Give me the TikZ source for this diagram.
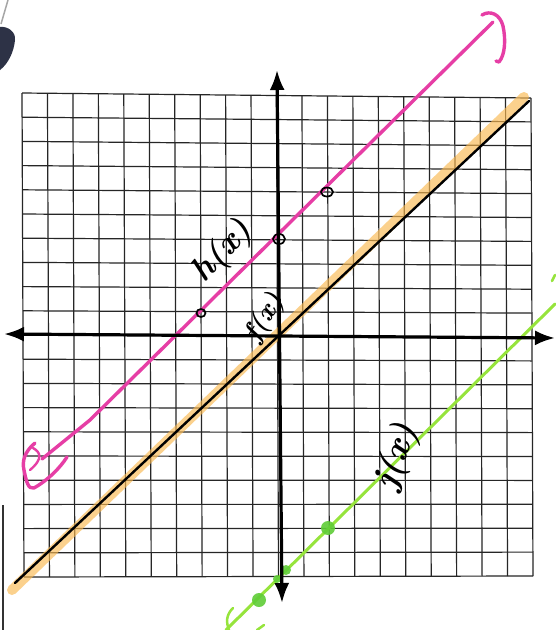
\documentclass[tikz,border=0pt]{standalone}
\usetikzlibrary{arrows.meta}
\definecolor{pinkline}{RGB}{230,62,165}
\definecolor{orangehl}{RGB}{250,185,80}
\definecolor{greenline}{RGB}{150,228,60}
\definecolor{greendot}{RGB}{95,205,55}
\definecolor{pencil}{RGB}{45,50,70}
\begin{document}
\begin{tikzpicture}[x=1pt,y=-1pt,
  gridline/.style={line width=1.2pt, black!85},
  axisline/.style={line width=3.2pt, black, {Latex[length=20pt,width=15pt]}-{Latex[length=20pt,width=15pt]}},
  hand/.style={inner sep=0pt, text=black},
  opendot/.style={line width=1.7pt, black},
  pinkstroke/.style={line width=3.4pt, pinkline, line cap=round, line join=round},
  greenstroke/.style={line width=3pt, greenline, line cap=round},
]
\useasboundingbox (0,0) rectangle (555,630);
\fill[white] (0,0) rectangle (555,630);

% grid
\foreach \i in {0,...,20} {
  \draw[gridline] ({22+25.45*\i},{93+0.25*\i}) -- ({24+25.45*\i},{577-0.05*\i});
  \draw[gridline] ({22+0.1*\i},{93+24.2*\i}) -- ({531+0.1*\i},{98+23.9*\i});
}

% orange highlight along f(x)
\draw[line width=10pt, orangehl, opacity=0.65, line cap=round] (12,590) -- (524,97);

% green line j(x)
\coordinate (j1) at (226,630);
\coordinate (j2) at (555,304);
\draw[greenstroke] (j1) -- (j2);
\foreach \p/\r in {{(328,528)}/7, {(286,570)}/5, {(277,579)}/4, {(259,600)}/7}
  \fill[greendot, opacity=0.9] \p circle (\r);
\draw[greenstroke, line width=2.5pt] (233,608) .. controls (226,615) and (226,622) .. (229,630);
\draw[greenstroke, line width=2.5pt] (257,630) -- (264,625);
\draw[greenstroke, line width=2.5pt] (552,281) -- (555,275);

% pink line h(x)
\coordinate (h1) at (42,459);
\coordinate (hm) at (90,420);
\coordinate (h2) at (493,22);
\draw[pinkstroke] (h1) -- (hm) -- (h2);
\draw[pinkstroke] (482,15) .. controls (490,10) and (500,14) .. (503,26)
  .. controls (506,40) and (505,55) .. (499,62) -- (496,61);
\draw[pinkstroke] (35,443) .. controls (24,452) and (22,462) .. (24,470)
  .. controls (26,480) and (28,490) .. (34,488)
  .. controls (48,480) and (60,468) .. (67,457);
\draw[pinkstroke, line width=2.4pt] (33,448) .. controls (40,452) and (44,458) .. (30,470);

% axes
\coordinate (xl) at (4,334);
\coordinate (xr) at (555,338);
\coordinate (yt) at (277,70);
\coordinate (yb) at (282,603);
\draw[axisline] (xl) -- (xr);
\draw[axisline] (yb) -- (yt);

% black f(x) line
\draw[line width=2.4pt, black, line cap=round] (15,583) -- (529,101);

% open points on h(x)
\draw[opendot] (201,313) ellipse [x radius=4.5, y radius=4];
\draw[opendot] (279,239) ellipse [x radius=6, y radius=5];
\draw[opendot] (327,192) ellipse [x radius=6, y radius=4.5];

% handwritten labels
\node[hand, font=\bfseries\itshape\fontsize{34}{34}\selectfont, rotate=47] (hl) at (223,252) {h(x)};
\node[hand, font=\bfseries\itshape\fontsize{27}{27}\selectfont, rotate=58] (fl) at (265,318) {f(x)};
\node[hand, font=\bfseries\itshape\fontsize{36}{36}\selectfont, rotate=70] (jl) at (397,457) {j(x)};

% photo artefacts: pencil tip and paper edge
\fill[pencil] (0,27) .. controls (8,26) and (16,32) .. (15,40)
  .. controls (14,52) and (8,64) .. (0,70) -- cycle;
\draw[gray!70, line width=1.5pt] (8,0) -- (1,24);
\draw[black!80, line width=1.3pt] (3,505) -- (3,630);
\end{tikzpicture}
\end{document}
